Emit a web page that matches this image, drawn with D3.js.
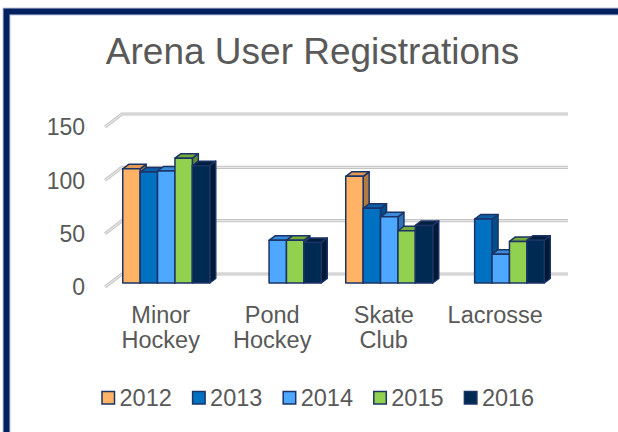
<!DOCTYPE html>
<html>
<head>
<meta charset="utf-8">
<script src="https://cdn.jsdelivr.net/npm/d3@7"></script>
<style>
  html, body { margin: 0; padding: 0; background: #fff; overflow: hidden; }
  svg { display: block; font-family: "Liberation Sans", Arial, sans-serif; }
</style>
</head>
<body>
<div id="chart"></div>
<script>
const categories = ['Minor Hockey', 'Pond Hockey', 'Skate Club', 'Lacrosse'];
const years = ['2012', '2013', '2014', '2015', '2016'];
const s2012 = [107, null, 100, null];
const s2013 = [104, null, 70, 60];
const s2014 = [105, 40, 62, 27];
const s2015 = [117, 40, 49, 39];
const s2016 = [110, 38, 54, 40];
const yTicks = [0, 50, 100, 150];

const seriesValues = [s2012, s2013, s2014, s2015, s2016];
const colors = {
  '2012': { front: '#FFB366', top: '#E09A55', side: '#B07A40' },
  '2013': { front: '#0070C0', top: '#0A5FA8', side: '#004F8C' },
  '2014': { front: '#4FA8FF', top: '#3A8AD8', side: '#2E72B8' },
  '2015': { front: '#92D050', top: '#73AA3A', side: '#5E8E2E' },
  '2016': { front: '#002A52', top: '#001E3E', side: '#001A36' }
};
const outline = '#1C3366';
const textColor = '#595959';

const width = 618, height = 432;
const svg = d3.select('#chart').append('svg')
  .attr('width', width)
  .attr('height', height);

svg.append('rect').attr('width', width).attr('height', height).attr('fill', '#fff');

// chart border (runs off right / bottom)
svg.append('rect')
  .attr('x', 6.5).attr('y', 11.5)
  .attr('width', 800).attr('height', 600)
  .attr('fill', 'none')
  .attr('stroke', '#8291B3')
  .attr('stroke-width', 7.5);
svg.append('rect')
  .attr('x', 6.5).attr('y', 11.5)
  .attr('width', 800).attr('height', 600)
  .attr('fill', 'none')
  .attr('stroke', '#002060')
  .attr('stroke-width', 5.5);

// title
svg.append('text')
  .attr('x', 312.5).attr('y', 64)
  .attr('text-anchor', 'middle')
  .attr('fill', textColor)
  .style('font-size', '37px')
  .text('Arena User Registrations');

// scales (front plane)
const x = d3.scaleBand().domain(categories).range([105, 551]);
const y = d3.scaleLinear().domain([0, 150]).range([287, 127]);
const wall = { dx: 17, dy: -13 };
const groupW = 87;
const xs = d3.scaleBand().domain(years).range([0, groupW]);
const barShift = { dx: 5.5, dy: -4 };
const depth = { dx: 6, dy: -4.5 };

// gridlines on back wall + left side wall
const grid = svg.append('g');
yTicks.forEach(t => {
  const yf = y(t);
  const path = `M${x.range()[0]},${yf} L${x.range()[0] + wall.dx},${yf + wall.dy} L${x.range()[1] + wall.dx},${yf + wall.dy}`;
  grid.append('path').attr('d', path).attr('fill', 'none')
    .attr('stroke', '#C4C4C4').attr('stroke-width', 3.2);
  grid.append('path').attr('d', path).attr('fill', 'none')
    .attr('stroke', '#E6E6E6').attr('stroke-width', 1.2);
});

// y tick labels
svg.append('g').selectAll('text')
  .data(yTicks)
  .join('text')
  .attr('x', 85)
  .attr('y', d => y(d))
  .attr('dy', '0.36em')
  .attr('text-anchor', 'end')
  .attr('fill', textColor)
  .style('font-size', '23px')
  .text(d => d);

// bars
const bars = svg.append('g');
categories.forEach((c, ci) => {
  const gx = x(c) + (x.bandwidth() - groupW) / 2 + barShift.dx;
  years.forEach((yr, si) => {
    const v = seriesValues[si][ci];
    if (v == null) return;
    const x0 = gx + xs(yr);
    const x1 = x0 + xs.bandwidth();
    const yb = y(0) + barShift.dy;
    const yt = y(v) + barShift.dy;
    const col = colors[yr];
    const g = bars.append('g')
      .attr('stroke', outline)
      .attr('stroke-width', 1.5)
      .attr('stroke-linejoin', 'round');
    // side
    g.append('path')
      .attr('d', `M${x1},${yb} L${x1 + depth.dx},${yb + depth.dy} L${x1 + depth.dx},${yt + depth.dy} L${x1},${yt} Z`)
      .attr('fill', col.side);
    // top
    g.append('path')
      .attr('d', `M${x0},${yt} L${x0 + depth.dx},${yt + depth.dy} L${x1 + depth.dx},${yt + depth.dy} L${x1},${yt} Z`)
      .attr('fill', col.top);
    // front
    g.append('rect')
      .attr('x', x0).attr('y', yt)
      .attr('width', xs.bandwidth()).attr('height', yb - yt)
      .attr('fill', col.front);
  });
});

// category labels
const labels = svg.append('g')
  .attr('fill', textColor)
  .style('font-size', '23.5px')
  .attr('text-anchor', 'middle');
categories.forEach(c => {
  const words = c === 'Lacrosse' ? [c] : c.split(' ');
  const t = labels.append('text').attr('y', 323);
  words.forEach((w, i) => {
    t.append('tspan')
      .attr('x', x(c) + x.bandwidth() / 2)
      .attr('dy', i === 0 ? 0 : 24.5)
      .text(w);
  });
});

// legend
const legend = svg.append('g')
  .selectAll('g')
  .data(years)
  .join('g')
  .attr('transform', (d, i) => `translate(${102 + i * 90.6},391.5)`);
legend.append('rect')
  .attr('width', 12.5).attr('height', 12.5)
  .attr('fill', d => colors[d].front)
  .attr('stroke', outline)
  .attr('stroke-width', 1.5);
legend.append('text')
  .attr('x', 17.5).attr('y', 14.5)
  .attr('fill', textColor)
  .style('font-size', '23.5px')
  .text(d => d);
</script>
</body>
</html>
